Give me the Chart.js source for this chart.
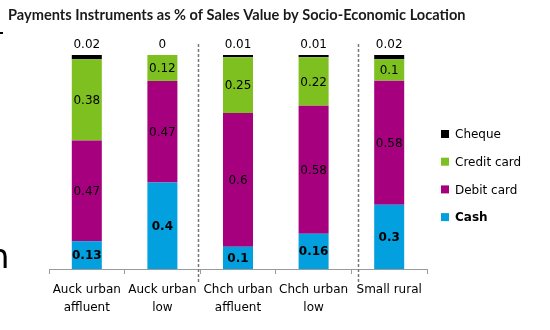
<!DOCTYPE html>
<html>
<head>
<meta charset="utf-8">
<script src="https://cdn.jsdelivr.net/npm/chart.js@4/dist/chart.umd.min.js"></script>
<style>
html,body{margin:0;padding:0;background:#fff;}
#wrap{position:relative;width:550px;height:330px;}
</style>
</head>
<body>
<div id="wrap"><canvas id="c" width="550" height="330"></canvas></div>
<script>
const titleText = 'Payments Instruments as % of Sales Value by Socio-Economic Location';
const categories = [['Auck urban','affluent'],['Auck urban','low'],['Chch urban','affluent'],['Chch urban','low'],['Small rural']];
const cash   = [0.13, 0.4, 0.1, 0.16, 0.3];
const debit  = [0.47, 0.47, 0.6, 0.58, 0.58];
const credit = [0.38, 0.12, 0.25, 0.22, 0.1];
const cheque = [0.02, 0, 0.01, 0.01, 0.02];
const seriesNames = ['Cash','Debit card','Credit card','Cheque'];
const seriesColors = ['#02A0DE','#A7007F','#7EC01F','#000000'];
const dividerPositions = [1.47, 3.59]; // in category units

const raw = [cash, debit, credit, cheque];
const totals = categories.map((_, i) => raw.reduce((s, arr) => s + arr[i], 0));
const shares = raw.map(arr => arr.map((v, i) => v / totals[i]));

const FONT = '"DejaVu Sans", Verdana, sans-serif';

const decorPlugin = {
  id: 'decor',
  beforeDatasetsDraw(chart) {
    const ctx = chart.ctx;
    const xs = chart.scales.x;
    ctx.save();
    ctx.strokeStyle = '#777';
    ctx.lineWidth = 1.5;
    ctx.setLineDash([3, 2]);
    dividerPositions.forEach(p => {
      const x = Math.round(xs.getPixelForValue(p)) + 0.5;
      ctx.beginPath();
      ctx.moveTo(x, 44);
      ctx.lineTo(x, 283);
      ctx.stroke();
    });
    ctx.restore();
  },
  afterDatasetsDraw(chart) {
    const ctx = chart.ctx;
    ctx.save();
    ctx.textAlign = 'center';
    ctx.textBaseline = 'middle';
    chart.data.datasets.forEach((ds, di) => {
      const meta = chart.getDatasetMeta(di);
      meta.data.forEach((bar, i) => {
        const v = raw[di][i];
        const txt = String(Math.round(v * 100) / 100);
        ctx.fillStyle = '#000';
        if (di === 3) {
          ctx.font = '12px ' + FONT;
          ctx.fillText(txt, bar.x, bar.y - 10);
        } else {
          ctx.font = (di === 0 ? 'bold ' : '') + '12px ' + FONT;
          ctx.fillText(txt, bar.x, (bar.y + bar.base) / 2 + 1);
        }
      });
    });
    // title
    ctx.textAlign = 'left';
    ctx.textBaseline = 'alphabetic';
    ctx.font = 'bold 14.6px Lato, "Open Sans", sans-serif';
    ctx.fillStyle = '#1a1a1a';
    ctx.fillText(titleText, 8, 20);
    // legend (reverse order)
    const lx = 441, ly = 134, step = 27.7;
    for (let k = 0; k < 4; k++) {
      const di = 3 - k;
      const y = ly + k * step;
      ctx.fillStyle = seriesColors[di];
      ctx.fillRect(lx, y - 4, 8, 8);
      ctx.fillStyle = '#000';
      ctx.font = (di === 0 ? 'bold ' : '') + '12px ' + FONT;
      ctx.textBaseline = 'middle';
      ctx.fillText(seriesNames[di], lx + 14, y + 1);
    }
    // cut-off slide fragments at the left edge
    ctx.fillStyle = '#000';
    ctx.font = '34px ' + FONT;
    ctx.textBaseline = 'alphabetic';
    ctx.fillText('n', -12, 268);
    ctx.fillRect(0, 32, 3, 2);
    ctx.restore();
  }
};

new Chart(document.getElementById('c'), {
  type: 'bar',
  data: {
    labels: categories,
    datasets: seriesNames.map((name, di) => ({
      label: name,
      data: shares[di],
      backgroundColor: seriesColors[di],
      borderWidth: 0,
      barPercentage: 0.397,
      categoryPercentage: 1
    }))
  },
  options: {
    responsive: false,
    devicePixelRatio: 1,
    animation: false,
    layout: { padding: { left: 49, right: 123, top: 55, bottom: 0 } },
    plugins: { legend: { display: false }, title: { display: false }, tooltip: { enabled: false } },
    scales: {
      x: {
        stacked: true,
        offset: true,
        grid: { display: true, offset: true, drawOnChartArea: false, drawTicks: true, tickLength: 5, color: '#9a9a9a', lineWidth: 1 },
        border: { display: true, color: '#9a9a9a', width: 1 },
        ticks: { color: '#000', font: { family: FONT, size: 12, lineHeight: 1.5 }, padding: 7, maxRotation: 0, autoSkip: false },
        afterFit(scale) { scale.height = 61; }
      },
      y: {
        stacked: true,
        min: 0,
        max: 1,
        display: false
      }
    }
  },
  plugins: [decorPlugin]
});
</script>
</body>
</html>
